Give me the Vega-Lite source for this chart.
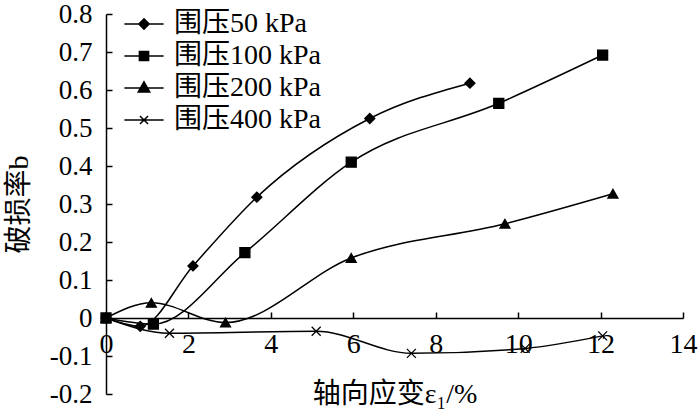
{
  "$schema": "https://vega.github.io/schema/vega-lite/v6.json",
  "width": 577,
  "height": 380,
  "autosize": "none",
  "padding": {"left": 106, "top": 14, "right": 17, "bottom": 16},
  "background": "white",
  "config": {
    "view": {"stroke": null},
    "font": "'Liberation Serif', serif",
    "axis": {
      "grid": false,
      "domainColor": "black",
      "domainWidth": 1.5,
      "tickColor": "black",
      "tickWidth": 1.5,
      "tickSize": -6,
      "labelColor": "black",
      "labelFont": "'Liberation Serif', 'Times New Roman', serif",
      "labelFontSize": 27,
      "titleColor": "black",
      "titleFont": "'Liberation Serif', 'Noto Sans CJK SC', serif",
      "titleFontSize": 28,
      "titleFontWeight": "normal"
    }
  },
  "data": {
    "values": [
      {"series": "围压50 kPa", "x": 0, "y": 0},
      {"series": "围压50 kPa", "x": 0.83, "y": -0.022},
      {"series": "围压50 kPa", "x": 2.11, "y": 0.137},
      {"series": "围压50 kPa", "x": 3.66, "y": 0.318},
      {"series": "围压50 kPa", "x": 6.4, "y": 0.525},
      {"series": "围压50 kPa", "x": 8.83, "y": 0.618},
      {"series": "围压100 kPa", "x": 0, "y": 0},
      {"series": "围压100 kPa", "x": 1.15, "y": -0.016},
      {"series": "围压100 kPa", "x": 3.37, "y": 0.172},
      {"series": "围压100 kPa", "x": 5.95, "y": 0.41},
      {"series": "围压100 kPa", "x": 9.53, "y": 0.565},
      {"series": "围压100 kPa", "x": 12.05, "y": 0.692},
      {"series": "围压200 kPa", "x": 0, "y": 0},
      {"series": "围压200 kPa", "x": 1.1, "y": 0.04},
      {"series": "围压200 kPa", "x": 2.9, "y": -0.012},
      {"series": "围压200 kPa", "x": 5.95, "y": 0.158},
      {"series": "围压200 kPa", "x": 9.68, "y": 0.248},
      {"series": "围压200 kPa", "x": 12.3, "y": 0.327},
      {"series": "围压400 kPa", "x": 0, "y": 0},
      {"series": "围压400 kPa", "x": 1.54, "y": -0.04},
      {"series": "围压400 kPa", "x": 5.1, "y": -0.035},
      {"series": "围压400 kPa", "x": 7.41, "y": -0.093},
      {"series": "围压400 kPa", "x": 10.17, "y": -0.08},
      {"series": "围压400 kPa", "x": 12.05, "y": -0.047}
    ]
  },
  "encoding": {
    "x": {
      "field": "x",
      "type": "quantitative",
      "scale": {"domain": [0, 14], "nice": false, "zero": false},
      "axis": {
        "title": "轴向应变ε₁/%",
        "values": [0, 2, 4, 6, 8, 10, 12, 14],
        "offset": -76,
        "labelPadding": 18,
        "labelFontSize": 28,
        "titlePadding": 22,
        "labelFlush": false
      }
    },
    "y": {
      "field": "y",
      "type": "quantitative",
      "scale": {"domain": [-0.2, 0.8], "nice": false, "zero": false},
      "axis": {
        "title": "破损率b",
        "values": [-0.2, -0.1, 0, 0.1, 0.2, 0.3, 0.4, 0.5, 0.6, 0.7, 0.8],
        "labelExpr": "toString(round(datum.value * 10) / 10)",
        "labelPadding": 20,
        "titlePadding": 16,
        "labelFlush": false
      }
    }
  },
  "resolve": {"scale": {"shape": "independent"}},
  "layer": [
    {
      "mark": {"type": "line", "interpolate": "monotone", "color": "black", "strokeWidth": 1.5},
      "encoding": {"detail": {"field": "series"}}
    },
    {
      "mark": {"type": "point", "filled": true, "fill": "black", "stroke": "black", "strokeWidth": 1.3, "opacity": 1, "size": 100},
      "encoding": {
        "shape": {
          "field": "series",
          "type": "nominal",
          "scale": {
            "domain": ["围压50 kPa", "围压100 kPa", "围压200 kPa", "围压400 kPa"],
            "range": ["diamond", "square", "triangle-up", "M-0.9,-0.9L0.9,0.9M-0.9,0.9L0.9,-0.9"]
          },
          "legend": null
        }
      }
    },
    {
      "transform": [{"filter": "false"}],
      "mark": {"type": "point", "filled": true, "fill": "black", "stroke": "black", "strokeWidth": 1.5, "opacity": 1},
      "encoding": {
        "shape": {
          "field": "series",
          "type": "nominal",
          "scale": {
            "domain": ["围压50 kPa", "围压100 kPa", "围压200 kPa", "围压400 kPa"],
            "range": [
              "M-1.15,0H1.15M0,-0.3L0.3,0L0,0.3L-0.3,0Z",
              "M-1.15,0H1.15M-0.27,-0.27H0.27V0.27H-0.27Z",
              "M-1.15,0H1.15M0,-0.36L0.34,0.24H-0.34Z",
              "M-1.15,0H1.15M-0.24,-0.24L0.24,0.24M-0.24,0.24L0.24,-0.24"
            ]
          },
          "legend": {
            "title": null,
            "orient": "none",
            "legendX": 20,
            "legendY": -8,
            "symbolSize": 1156,
            "symbolStrokeWidth": 1.5,
            "symbolOpacity": 1,
            "labelFont": "'Liberation Serif', 'Noto Sans CJK SC', serif",
            "labelFontSize": 28,
            "labelColor": "black",
            "labelOffset": 12,
            "rowPadding": 0,
            "encode": {
              "symbols": {
                "update": {
                  "fill": {"value": "black"},
                  "stroke": {"value": "black"},
                  "strokeWidth": {"value": 1.5},
                  "opacity": {"value": 1}
                }
              }
            }
          }
        }
      }
    }
  ]
}
